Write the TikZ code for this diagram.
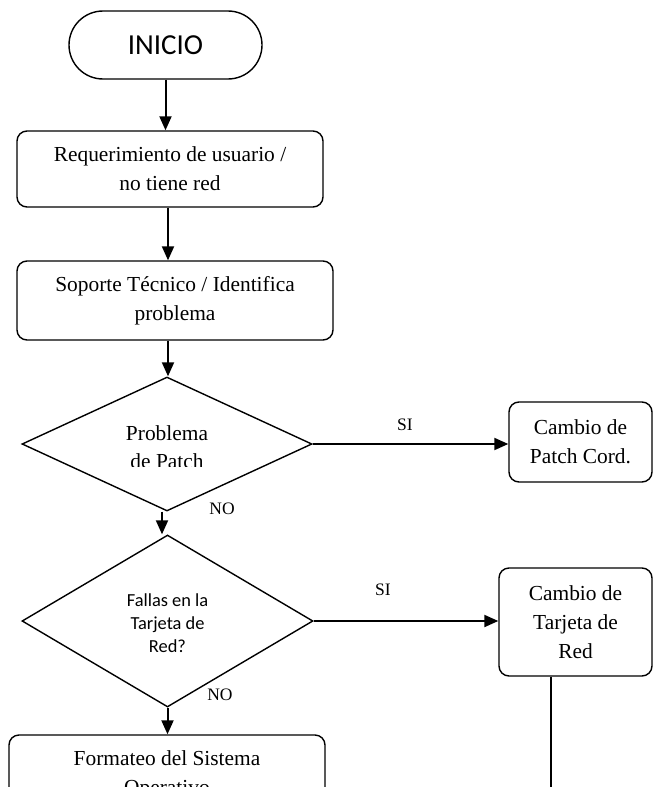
\documentclass[tikz,border=0pt]{standalone}
\usepackage{fontspec}
\setmainfont{Liberation Serif}
\newfontfamily\calib{Carlito}
\usetikzlibrary{arrows.meta,shapes.geometric}
\begin{document}
\begin{tikzpicture}[x=1pt,y=-1pt,
  box/.style={draw,rounded corners=10pt,line width=1.4pt,align=center,
    inner sep=0pt,font=\fontsize{21.4}{29}\selectfont},
  decision/.style={draw,diamond,line width=1.4pt,inner sep=0pt},
  flow/.style={line width=2pt,-{Triangle[width=12pt,length=14pt]}},
  link/.style={line width=1.8pt},
  lbl/.style={font=\fontsize{17.5}{20}\selectfont}]
\useasboundingbox (0,0) rectangle (654,787);
\clip (0,0) rectangle (654,787);

% start terminal
\node[draw,line width=1.4pt,rounded corners=34pt,minimum width=193pt,minimum height=68pt,
  font=\calib\fontsize{29}{30}\selectfont] (ini) at (165.5,45) {INICIO};

% process boxes
\node[box,minimum width=306pt,minimum height=76pt] (req) at (170,169)
  {Requerimiento de usuario /\\no tiene red};
\node[box,minimum width=316pt,minimum height=79pt] (sop) at (175,300.5)
  {Soporte Técnico / Identifica\\problema};

% decisions
\node[decision,minimum width=290pt,minimum height=134pt] (d1) at (167,444) {};
\node[decision,minimum width=291pt,minimum height=172pt] (d2) at (167.5,621) {};

\node[font=\fontsize{21.4}{22}\selectfont] (d1a) at (167,433) {Problema};
\begin{scope}
  \clip (0,0) rectangle (654,466);
  \node[font=\fontsize{21.4}{22}\selectfont] (d1b) at (167,461) {de Patch};
\end{scope}
\node[align=center,font=\calib\fontsize{18.4}{23}\selectfont] (d2t) at (167.5,623)
  {Fallas en la\\Tarjeta de\\Red?};

% side actions
\node[box,minimum width=143pt,minimum height=80pt] (patch) at (580.5,442)
  {Cambio de\\Patch Cord.};
\node[box,minimum width=153pt,minimum height=108pt] (tarj) at (575.5,622)
  {Cambio de\\Tarjeta de\\Red};

% final step
\node[box,minimum width=316pt,minimum height=80pt] (form) at (167,775)
  {Formateo del Sistema\\Operativo};

% connectors
\coordinate (colA) at (168,0);
\coordinate (colB) at (162,0);
\draw[flow] (ini.south) -- (ini.south |- req.north);
\draw[flow] (req.south -| colA) -- (sop.north -| colA);
\draw[flow] (sop.south -| colA) -- (d1.north -| colA);
\draw[flow] (d1.south -| colB) -- (d2.north -| colB);
\draw[flow] (d2.south) -- (d2.south |- form.north);
\draw[flow] (d1.east) -- (d1.east -| patch.west);
\draw[flow] (d2.east) -- (d2.east -| tarj.west);
\coordinate (down) at (551,800);
\draw[link] (tarj.south -| down) -- (down);

% branch labels
\node[lbl] (si1) at (405,425) {SI};
\node[lbl] (si2) at (383,590) {SI};
\node[lbl] (no1) at (222,509) {NO};
\node[lbl] (no2) at (220,695) {NO};
\end{tikzpicture}
\end{document}
